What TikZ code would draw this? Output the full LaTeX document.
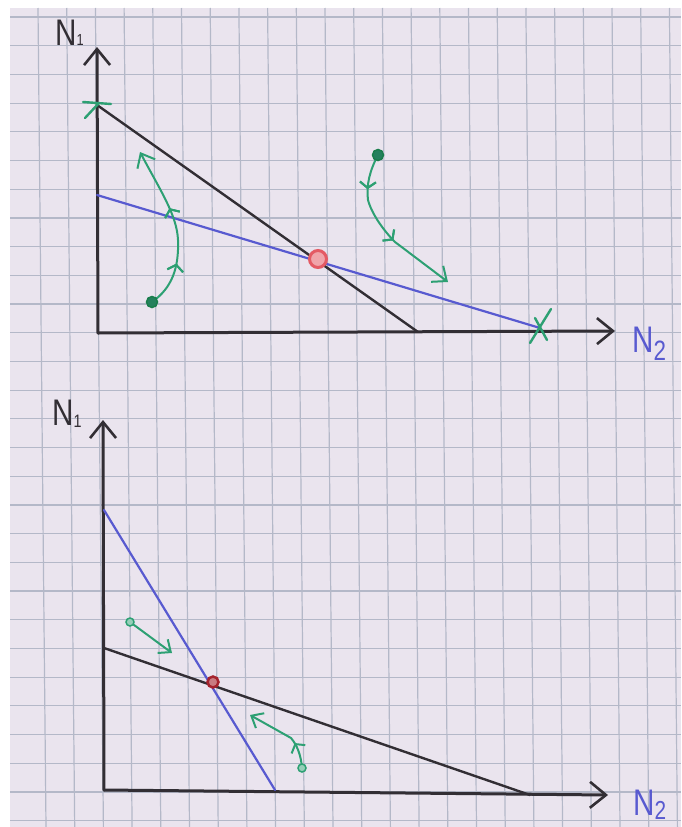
\documentclass[tikz,border=0pt]{standalone}
\usepackage{fontspec}
\setmainfont{Liberation Sans}
\newfontfamily\handfont[FakeStretch=0.8]{Liberation Sans}
\usetikzlibrary{arrows.meta,decorations.markings}
\definecolor{paper}{RGB}{234,228,238}
\definecolor{gridc}{RGB}{180,184,200}
\definecolor{ink}{RGB}{50,46,52}
\definecolor{blueink}{RGB}{88,90,208}
\definecolor{greenink}{RGB}{45,160,115}
\definecolor{dkgreen}{RGB}{25,125,75}
\definecolor{redink}{RGB}{228,90,100}
\definecolor{dkred}{RGB}{165,35,45}
\newcommand\lsub[3]{\raisebox{#1}{\fontsize{#2}{#2}\selectfont #3}}
\tikzset{
  gridline/.style={draw=gridc, line width=1.2pt},
  axisline/.style={draw=ink, line width=3pt, line cap=round, -{Straight Barb[length=16pt,width=26pt,line width=2.6pt]}},
  blackline/.style={draw=ink, line width=2.4pt, line cap=round},
  blueline/.style={draw=blueink, line width=2.2pt, line cap=round},
  xmark/.style={draw=greenink, line width=2.4pt, line cap=round},
  traj/.style={draw=greenink, line width=2pt, line cap=round},
  trajtip/.style={-{Straight Barb[length=12pt,width=20pt,line width=2pt]}},
  chev/.style={postaction=decorate, decoration={markings,
     mark=at position #1 with {\arrow[greenink, line width=2pt]{Straight Barb[length=6pt,width=16pt]}}}},
  gdot/.style={circle, draw=dkgreen, fill=greenink!80!black, line width=1.5pt, minimum size=11pt, inner sep=0pt},
  gsmall/.style={circle, draw=greenink, fill=greenink!50, line width=1.5pt, minimum size=8pt, inner sep=0pt},
  redring/.style={circle, draw=redink, fill=redink!55, line width=3pt, minimum size=17pt, inner sep=0pt},
  redsmall/.style={circle, draw=dkred, fill=dkred!60, line width=2.5pt, minimum size=11pt, inner sep=0pt},
  nlab/.style={inner sep=0pt, anchor=base west, font=\handfont\fontsize{37}{37}\selectfont},
}
\begin{document}
\begin{tikzpicture}[x=1pt,y=-1pt]
\useasboundingbox (0,0) rectangle (681,827);
\fill[white] (0,0) rectangle (681,827);
\fill[paper] (10,8) rectangle (681,827);
% grid
\foreach \k in {0,...,22} \draw[gridline] ({38+28.7*\k},8) -- ({46+28.7*\k},827);
\foreach \k in {0,...,28} \draw[gridline] (10,{17+28.7*\k}) -- (681,{17+28.7*\k});

% ---------------- top plot ----------------
\coordinate (O1) at (98,333);
\coordinate (Y1) at (97,47);
\coordinate (X1) at (615,331);
\coordinate (A1) at (97,105);
\coordinate (B1) at (418,332);
\coordinate (C1) at (97,195);
\coordinate (D1) at (540,328);
\coordinate (E1) at (318,259);
\coordinate (P1) at (152,302);
\coordinate (T1) at (140,152);
\coordinate (P2) at (378,155);
\coordinate (T2) at (448,282);

\draw[axisline] (O1) -- (Y1);
\draw[axisline] (O1) -- (X1);
\draw[blackline] (A1) -- (B1);
\draw[blueline] (C1) -- (D1);

\draw[xmark] (A1) ++(-14,-3) -- ++(28,2);
\draw[xmark] (A1) ++(-12,13) -- ++(14,-15);
\draw[xmark] (D1) ++(11,-19) -- ++(-21,34);
\draw[xmark] (D1) ++(-5,-10) -- ++(12,22);

\draw[traj, trajtip, chev=0.28, chev=0.62] (P1) .. controls (172,288) and (179,268) .. (178,240)
   .. controls (177,215) and (160,190) .. (T1);
\draw[traj, trajtip, chev=0.22, chev=0.58] (P2) .. controls (370,170) and (366,185) .. (368,200)
   .. controls (372,215) and (385,232) .. (395,242) -- (T2);
\node[gdot] (p1dot) at (P1) {};
\node[gdot] (p2dot) at (P2) {};
\node[redring] (eq1) at (E1) {};

\node[nlab, text=ink] (n1top) at (55,45) {N\lsub{0pt}{16}{1}};
\node[nlab, text=blueink] (n2top) at (632,352) {N\lsub{-8pt}{28}{2}};

% ---------------- bottom plot ----------------
\coordinate (O2) at (104,790);
\coordinate (Y2) at (103,420);
\coordinate (X2) at (608,795);
\coordinate (A2) at (104,510);
\coordinate (B2) at (275,790);
\coordinate (C2) at (104,648);
\coordinate (D2) at (530,795);
\coordinate (E2) at (213,682);
\coordinate (P3) at (130,622);
\coordinate (T3) at (172,653);
\coordinate (P4) at (302,768);
\coordinate (T4) at (250,715);

\draw[axisline] (O2) -- (Y2);
\draw[axisline] (O2) -- (X2);
\draw[blueline] (A2) -- (B2);
\draw[blackline] (C2) -- (D2);

\draw[traj, -{Straight Barb[length=10pt,width=17pt,line width=2pt]}] (P3) -- (T3);
\draw[traj, -{Straight Barb[length=10pt,width=17pt,line width=2pt]}, chev=0.33] (P4) .. controls (301,755) and (297,745) .. (291,738) -- (T4);
\node[gsmall] (p3dot) at (P3) {};
\node[gsmall] (p4dot) at (P4) {};
\node[redsmall] (eq2) at (E2) {};

\node[nlab, text=ink] (n1bot) at (52,425) {N\lsub{-2pt}{18}{1}};
\node[nlab, text=blueink] (n2bot) at (633,815) {N\lsub{-4pt}{26}{2}};
\end{tikzpicture}
\end{document}
